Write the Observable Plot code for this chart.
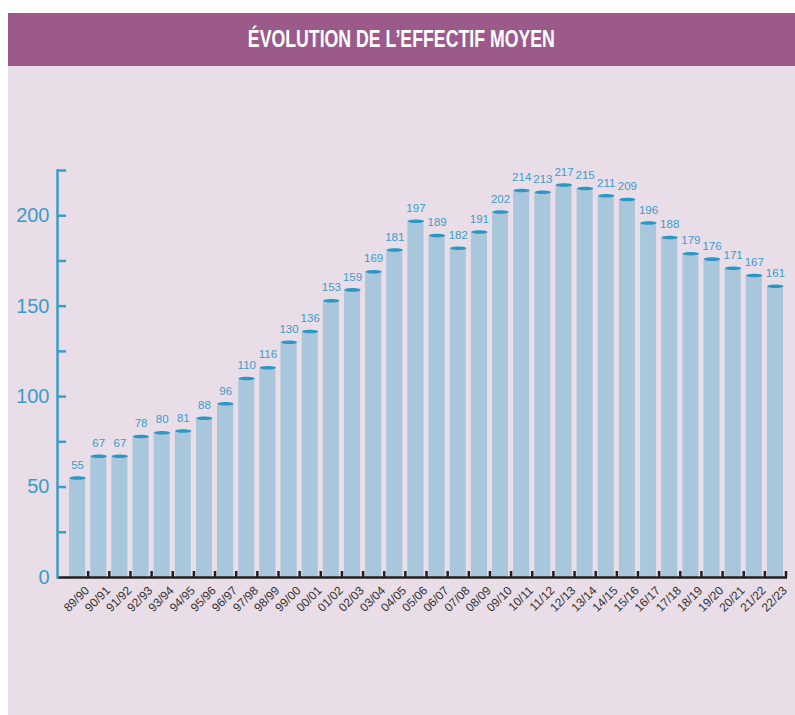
<!DOCTYPE html>
<html>
<head>
<meta charset="utf-8">
<script src="https://cdn.jsdelivr.net/npm/d3@7"></script>
<script src="https://cdn.jsdelivr.net/npm/@observablehq/plot@0.6"></script>
<style>
  html, body { margin: 0; padding: 0; background: #ffffff; }
  #wrap { position: relative; width: 795px; height: 715px; overflow: hidden; }
  #header {
    position: absolute; left: 8px; top: 13px; width: 787px; height: 53px;
    background: #9c5a8b; color: #ffffff; text-align: center; line-height: 53px;
    font-family: "Liberation Sans", Arial, sans-serif;
    font-weight: bold; font-size: 23px;
  }
  #header span { display: inline-block; transform: scaleX(0.77); transform-origin: center; white-space: nowrap; }
  #panel { position: absolute; left: 8px; top: 66px; width: 787px; height: 649px; background: #e9dde8; }
  #chart { position: absolute; left: 0; top: 66px; }
</style>
</head>
<body>
<div id="wrap">
  <div id="panel"></div>
  <div id="header"><span>ÉVOLUTION DE L’EFFECTIF MOYEN</span></div>
  <div id="chart"></div>
</div>
<script>
const seasons = ["89/90","90/91","91/92","92/93","93/94","94/95","95/96","96/97","97/98","98/99","99/00","00/01","01/02","02/03","03/04","04/05","05/06","06/07","07/08","08/09","09/10","10/11","11/12","12/13","13/14","14/15","15/16","16/17","17/18","18/19","19/20","20/21","21/22","22/23"];
const effectif = [55,67,67,78,80,81,88,96,110,116,130,136,153,159,169,181,197,189,182,191,202,214,213,217,215,211,209,196,188,179,176,171,167,161];
const yTicksMinor = [25,50,75,100,125,150,175,200,225];
const yTickLabels = [0,50,100,150,200];

const table = seasons.map((s, i) => ({season: s, value: effectif[i]}));

const W = 795, H = 649, ML = 57, MR = 8, MT = 104, MB = 138;
const PI = 0.24, PO = 0.38;
const step = (W - ML - MR) / (seasons.length - PI + 2 * PO);
const bw = step * (1 - PI);

const blue = "#3a9cc8";
const capBlue = "#2e96c2";
const barFill = "#a8c6dc";

const ellipseSymbol = {
  draw(context, size) {
    const rx = Math.sqrt(size / Math.PI), ry = rx * 0.22, k = 0.5523;
    context.moveTo(rx, 0);
    context.bezierCurveTo(rx, k * ry, k * rx, ry, 0, ry);
    context.bezierCurveTo(-k * rx, ry, -rx, k * ry, -rx, 0);
    context.bezierCurveTo(-rx, -k * ry, -k * rx, -ry, 0, -ry);
    context.bezierCurveTo(k * rx, -ry, rx, -k * ry, rx, 0);
    context.closePath();
  }
};

const chart = Plot.plot({
  width: W, height: H,
  marginTop: MT, marginBottom: MB, marginLeft: ML, marginRight: MR,
  style: {background: "transparent", fontFamily: "'Liberation Sans', Arial, sans-serif"},
  x: {type: "band", domain: seasons, paddingInner: PI, paddingOuter: PO, align: 0.75, round: false, label: null},
  y: {domain: [0, 225], label: null},
  marks: [
    Plot.barY(table, {x: "season", y: "value", fill: barFill}),
    Plot.dot(table, {x: "season", y: "value", symbol: ellipseSymbol, r: bw / 2, fill: capBlue, stroke: "none"}),
    Plot.text(table, {x: "season", y: "value", text: d => String(d.value), dy: -13, fill: blue, fontSize: 11.5}),
    Plot.ruleY([0], {stroke: "#231f20", strokeWidth: 2.5}),
    Plot.frame({anchor: "left", stroke: blue, strokeWidth: 2.5}),
    Plot.axisY(yTicksMinor, {tickSize: 9, dx: 9, tickFormat: () => "", stroke: blue, strokeWidth: 2.5}),
    Plot.axisY(yTickLabels, {tickSize: 0, tickPadding: 8, fontSize: 20, color: blue, label: null}),
    Plot.axisX({tickSize: 6, dx: step / 2, dy: -6, tickFormat: () => "", stroke: "#231f20", strokeWidth: 2.5, label: null}),
    Plot.axisX({tickSize: 0, tickRotate: -45, tickPadding: 11, dx: step / 2 - 1, fontSize: 12, color: "#333333", label: null})
  ]
});
document.getElementById("chart").appendChild(chart);
</script>
</body>
</html>
